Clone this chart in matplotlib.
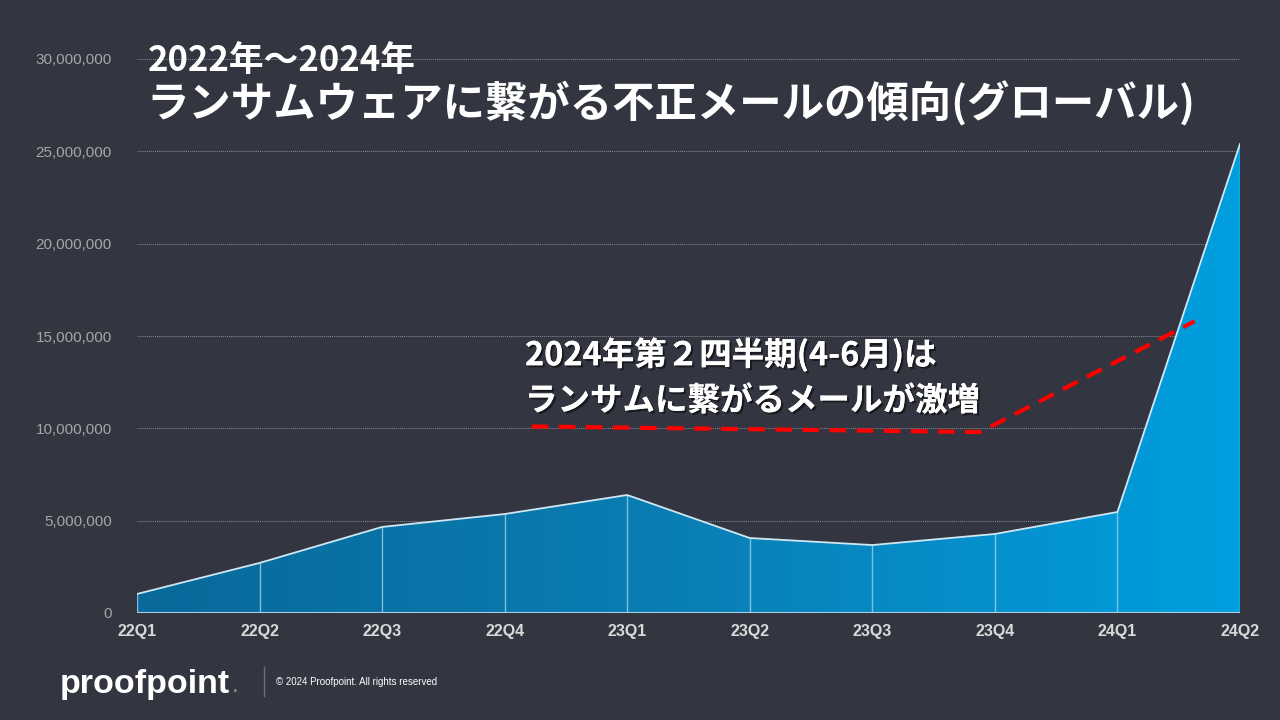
import numpy as np
import matplotlib.pyplot as plt
from matplotlib.colors import LinearSegmentedColormap
import matplotlib.patheffects as pe

plt.rcParams['font.family'] = ['Noto Sans CJK JP', 'DejaVu Sans']

## data
quarters = ['22Q1', '22Q2', '22Q3', '22Q4', '23Q1', '23Q2', '23Q3', '23Q4', '24Q1', '24Q2']
counts = [1030000, 2710000, 4660000, 5360000, 6390000, 4060000, 3680000, 4280000, 5470000, 25400000]

## hand drawn dashed arrow in the slide (x in quarter index, y in messages)
arrow_x = [3.22, 6.88, 8.63]
arrow_y = [10100000, 9800000, 15800000]

bg = '#333640'
fig = plt.figure(figsize=(12.8, 7.2), dpi=100, facecolor=bg)
ax = fig.add_axes([137/1280, 1 - 613/720, (1240-137)/1280, (613-59)/720])
ax.set_facecolor(bg)

x = np.arange(len(quarters))
poly = ax.fill_between(x, counts, 0, color='none', lw=0)
grad = LinearSegmentedColormap.from_list('g', ['#08699a', '#0a7fb5', '#009fe0'])
img = ax.imshow(np.linspace(0, 1, 256).reshape(1, -1), cmap=grad, aspect='auto',
                extent=[0, len(quarters)-1, 0, 30000000], zorder=2)
img.set_clip_path(poly.get_paths()[0], transform=ax.transData)

ax.plot(x, counts, color='#cfe6f3', lw=1.3, zorder=4)
ax.vlines(x, 0, counts, color='#9fd0ec', lw=1, alpha=0.8, zorder=3)
ax.axhline(0, color='#a9cfe4', lw=1.5, zorder=4)

ax.set_xlim(0, len(quarters)-1)
ax.set_ylim(0, 30000000)
ax.set_yticks(range(0, 30000001, 5000000))
ax.set_yticklabels(['{:,}'.format(v) for v in range(0, 30000001, 5000000)],
                   color='#a6a6a6', fontsize=11, family=['Liberation Sans'])
ax.set_xticks(x)
ax.set_xticklabels(quarters, color='#d9d9d9', fontsize=11.5, fontweight='bold',
                   family=['Liberation Sans'])
ax.tick_params(length=0, pad=8)
ax.tick_params(axis='y', pad=18)
ax.grid(axis='y', color='#8a8c94', ls=(0, (1, 1)), lw=0.7, zorder=1)
ax.set_axisbelow(True)
for s in ax.spines.values():
    s.set_visible(False)

ax.plot(arrow_x, arrow_y, color='#ff0000', lw=3, ls=(0, (4, 2.5)), zorder=5)

shadow = [pe.withSimplePatchShadow(offset=(1.5, -1.5), shadow_rgbFace='black', alpha=0.5), pe.Normal()]
fig.text(148/1280, 1 - 60/720, '2022年～2024年', color='white', fontsize=25,
         fontweight='bold', va='center', ha='left')
fig.text(146/1280, 1 - 104/720, 'ランサムウェアに繋がる不正メールの傾向(グローバル)', color='white',
         fontsize=30.5, fontweight='bold', va='center', ha='left')
fig.text(525/1280, 1 - 355/720, '2024年第２四半期(4-6月)は', color='white', fontsize=23.4,
         fontweight='bold', va='center', ha='left', path_effects=shadow)
fig.text(525/1280, 1 - 401/720, 'ランサムに繋がるメールが激増', color='white', fontsize=23.4,
         fontweight='bold', va='center', ha='left', path_effects=shadow)

## footer
fig.text(60/1280, 1 - 684/720, 'proofpoint', color='white', fontsize=24.5, fontweight='bold',
         va='center', ha='left', family=['Liberation Sans'])
fig.text(233/1280, 1 - 688/720, '.', color='#8a8c94', fontsize=12, fontweight='bold',
         va='center', ha='left', family=['Liberation Sans'])
fig.add_artist(plt.Line2D([264/1280, 264/1280], [1 - 667/720, 1 - 696/720], color='#6e7078', lw=1))
fig.text(276/1280, 1 - 682/720, '© 2024 Proofpoint. All rights reserved', color='white',
         fontsize=7, va='center', ha='left', family=['Liberation Sans'])

fig.savefig('out.png', dpi=100, facecolor=bg)
